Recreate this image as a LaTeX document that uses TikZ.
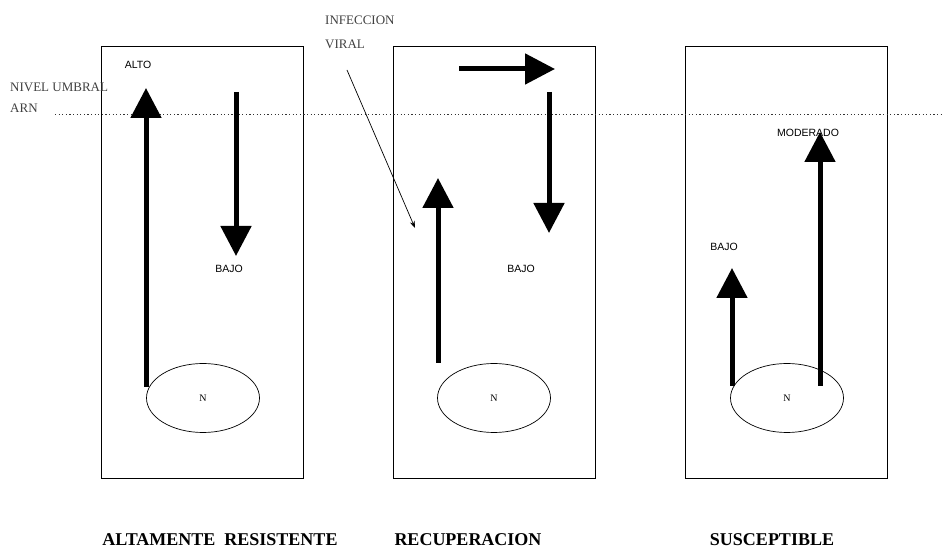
\documentclass[tikz,border=0pt]{standalone}
\usepackage{fontspec}
\setmainfont{Liberation Serif}
\newfontfamily\arialfont{Liberation Sans}
\usetikzlibrary{shapes.geometric, arrows, arrows.meta}
\tikzstyle{panel} = [rectangle,
minimum width=202pt,
minimum height=432pt,
inner sep=0pt,
draw=black,
line width=0.8pt]
\tikzstyle{nucleus} = [ellipse,
minimum width=113pt,
minimum height=69pt,
inner sep=0pt,
draw=black,
line width=0.7pt,
font=\fontsize{10}{12}\selectfont]
\tikzstyle{level} = [font=\arialfont\fontsize{10.5}{12}\selectfont,
inner sep=0pt]
\tikzstyle{note} = [font=\fontsize{13}{15}\selectfont,
text=black!75,
anchor=base west,
inner sep=0pt]
\tikzstyle{title} = [font=\bfseries\fontsize{18}{20}\selectfont,
anchor=base,
inner sep=0pt]
\tikzstyle{bigarrow} = [line width=5pt,-{Triangle[length=30pt,width=30pt]}]
\tikzstyle{arrow} = [line width=0.7pt,-{Stealth[length=7pt,width=5pt]}]

\begin{document}
\begin{tikzpicture}[x=1pt, y=1pt, node distance=146pt]

\useasboundingbox (0,0) rectangle (944,548);

\node (box1) [panel] at (202,286) {};
\node (box2) [panel, right of=box1, xshift=146pt] {};
\node (box3) [panel, right of=box2, xshift=146pt] {};

\node (n1) [nucleus, below of=box1, yshift=10pt, xshift=1pt] {N};
\node (n2) [nucleus, below of=box2, yshift=10pt] {N};
\node (n3) [nucleus, below of=box3, yshift=10pt, xshift=1pt] {N};

% umbral
\coordinate (umbralL) at (55,433.5);
\coordinate (umbralR) at (944,433.5);
\draw [line width=1.2pt, black!80, dash pattern=on 1.2pt off 2.4pt] (umbralL) -- (umbralR);
\node (nivel) [note] at (10,456) {NIVEL UMBRAL};
\node (arn) [note] at (10,435) {ARN};

% altamente resistente
\coordinate (up1s) at (146,161);
\coordinate (up1e) at (146,460);
\coordinate (dn1s) at (236,456);
\coordinate (dn1e) at (236,292);
\draw [bigarrow] (up1s) -- (up1e);
\draw [bigarrow] (dn1s) -- (dn1e);
\node (alto) [level] at (138,483) {ALTO};
\node (bajo1) [level] at (229,279) {BAJO};

% recuperacion
\coordinate (rt2s) at (459,479);
\coordinate (rt2e) at (555,479);
\coordinate (up2s) at (438,185);
\coordinate (up2e) at (438,370);
\coordinate (dn2s) at (549,456);
\coordinate (dn2e) at (549,315);
\draw [bigarrow] (rt2s) -- (rt2e);
\draw [bigarrow] (up2s) -- (up2e);
\draw [bigarrow] (dn2s) -- (dn2e);
\node (bajo2) [level] at (521,279) {BAJO};
\node (infeccion) [note] at (325,523) {INFECCION};
\node (viral) [note] at (325,499) {VIRAL};
\coordinate (virS) at (347,478);
\coordinate (virE) at (415,320);
\draw [arrow] (virS) -- (virE);

% susceptible
\coordinate (up3s) at (732,162);
\coordinate (up3e) at (732,280);
\coordinate (md3s) at (820,162);
\coordinate (md3e) at (820,416);
\draw [bigarrow] (up3s) -- (up3e);
\draw [bigarrow] (md3s) -- (md3e);
\node (bajo3) [level] at (724,301) {BAJO};
\node (moderado) [level] at (808,415) {MODERADO};

\node (t1) [title] at (220,2) {ALTAMENTE\ \ RESISTENTE};
\node (t2) [title] at (468,2) {RECUPERACION};
\node (t3) [title] at (772,2) {SUSCEPTIBLE};

\end{tikzpicture}
\end{document}
